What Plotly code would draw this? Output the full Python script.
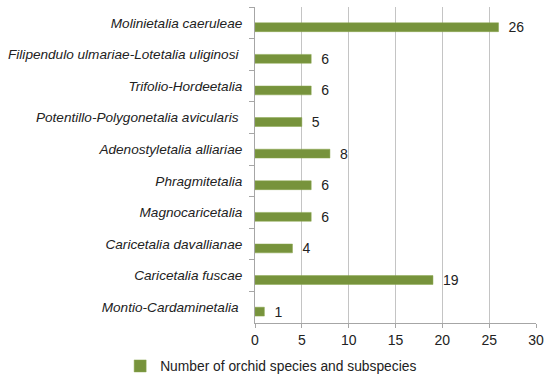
import plotly.graph_objects as go

categories = [
    "Molinietalia caeruleae",
    "Filipendulo ulmariae-Lotetalia uliginosi\u00a0",
    "Trifolio-Hordeetalia",
    "Potentillo-Polygonetalia avicularis\u00a0",
    "Adenostyletalia alliariae",
    "Phragmitetalia",
    "Magnocaricetalia",
    "Caricetalia davallianae",
    "Caricetalia fuscae",
    "Montio-Cardaminetalia\u00a0",
]
values = [26, 6, 6, 5, 8, 6, 6, 4, 19, 1]
series_name = "Number of orchid species and subspecies"
x_ticks = [0, 5, 10, 15, 20, 25, 30]

fig = go.Figure()
fig.add_trace(go.Bar(
    y=categories, x=values, orientation="h", name=series_name,
    marker=dict(color="#77933C", line=dict(color="#8aa64e", width=0.5)),
    width=0.28, offset=0.0,
    text=["\u2002" + str(v) for v in values], textposition="outside", constraintext="none",
    textfont=dict(family="Liberation Sans, Arial", size=14, color="#222222"),
    cliponaxis=False,
    showlegend=True,
))

fig.update_layout(
    width=550, height=376,
    margin=dict(l=255, r=14, t=7, b=53, autoexpand=False),
    paper_bgcolor="white", plot_bgcolor="white",
    font=dict(family="Liberation Sans, Arial", size=13, color="#222222"),
    xaxis=dict(
        range=[0, 30], tickvals=x_ticks, showgrid=True, gridcolor="#c4c4c4", gridwidth=1,
        showline=True, linecolor="#a6a6a6", linewidth=1,
        ticks="outside", ticklen=4, tickcolor="#a6a6a6",
        tickfont=dict(size=14, color="#222222"), zeroline=False, automargin=False,
    ),
    yaxis=dict(
        autorange="reversed", showline=True, linecolor="#a6a6a6", linewidth=1,
        ticks="outside", ticklen=5, tickcolor="#a6a6a6", tickson="boundaries",
        tickfont=dict(size=13.6, color="#222222", style="italic"),
        ticklabelstandoff=9, automargin=False,
    ),
    legend=dict(
        orientation="h", x=0.493, xanchor="center", xref="container",
        y=-0.136, yanchor="middle", yref="paper",
        font=dict(size=13.8, color="#222222"),
        itemwidth=30,
    ),
)

fig.write_html("out.html", config={"displayModeBar": False},
               post_script="document.body.style.margin='0px';")
